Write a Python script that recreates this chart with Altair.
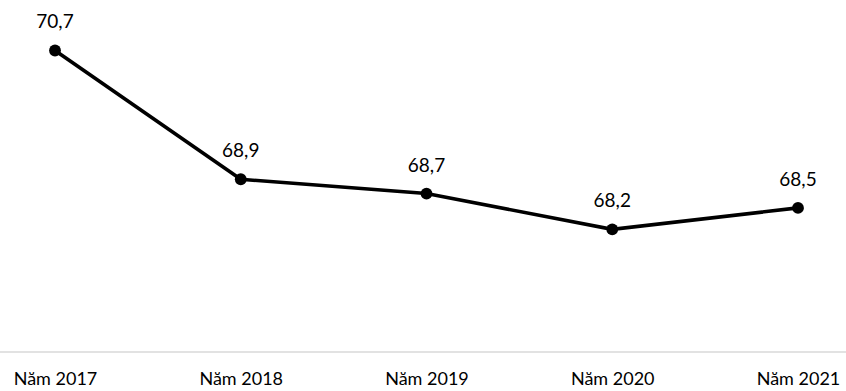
import altair as alt
import pandas as pd

years = ["Năm 2017", "Năm 2018", "Năm 2019", "Năm 2020", "Năm 2021"]
values = [70.7, 68.9, 68.7, 68.2, 68.5]
labels = ["70,7", "68,9", "68,7", "68,2", "68,5"]

df = pd.DataFrame({"year": years, "value": values, "label": labels})

x = alt.X("year:N", sort=years, scale=alt.Scale(type="point", padding=0),
          axis=alt.Axis(title=None, domain=False, ticks=False, labelAngle=0,
                        labelFont="Lato", labelFontSize=18, labelColor="#000",
                        labelPadding=19, grid=False))
y = alt.Y("value:Q", scale=alt.Scale(domain=[66.5, 71], zero=False, nice=False),
          axis=None)

base = alt.Chart(df)

axis_line = alt.Chart(pd.DataFrame({"v": [66.5]})).mark_rule(
    color="#d9d9d9", strokeWidth=1.5
).encode(x=alt.value(-55), x2=alt.value(791), y=alt.value(323))

line = base.mark_line(color="black", strokeWidth=3.6).encode(x=x, y=y)
pts = base.mark_point(filled=True, color="black", size=140, opacity=1).encode(x=x, y=y)
txt = base.mark_text(font="Lato", fontSize=19, color="#000", dy=-22,
                     baseline="alphabetic").encode(x=x, y=y, text="label:N")

chart = alt.layer(axis_line, line, pts, txt).properties(
    width=743, height=322,
    padding={"left": 55, "top": 29, "right": 48, "bottom": 40},
    autosize=alt.AutoSizeParams(type="none"),
).configure(background="white").configure_view(strokeWidth=0).configure_axis(grid=False)

chart.save("out.html", embed_options={"renderer": "svg", "actions": False})
